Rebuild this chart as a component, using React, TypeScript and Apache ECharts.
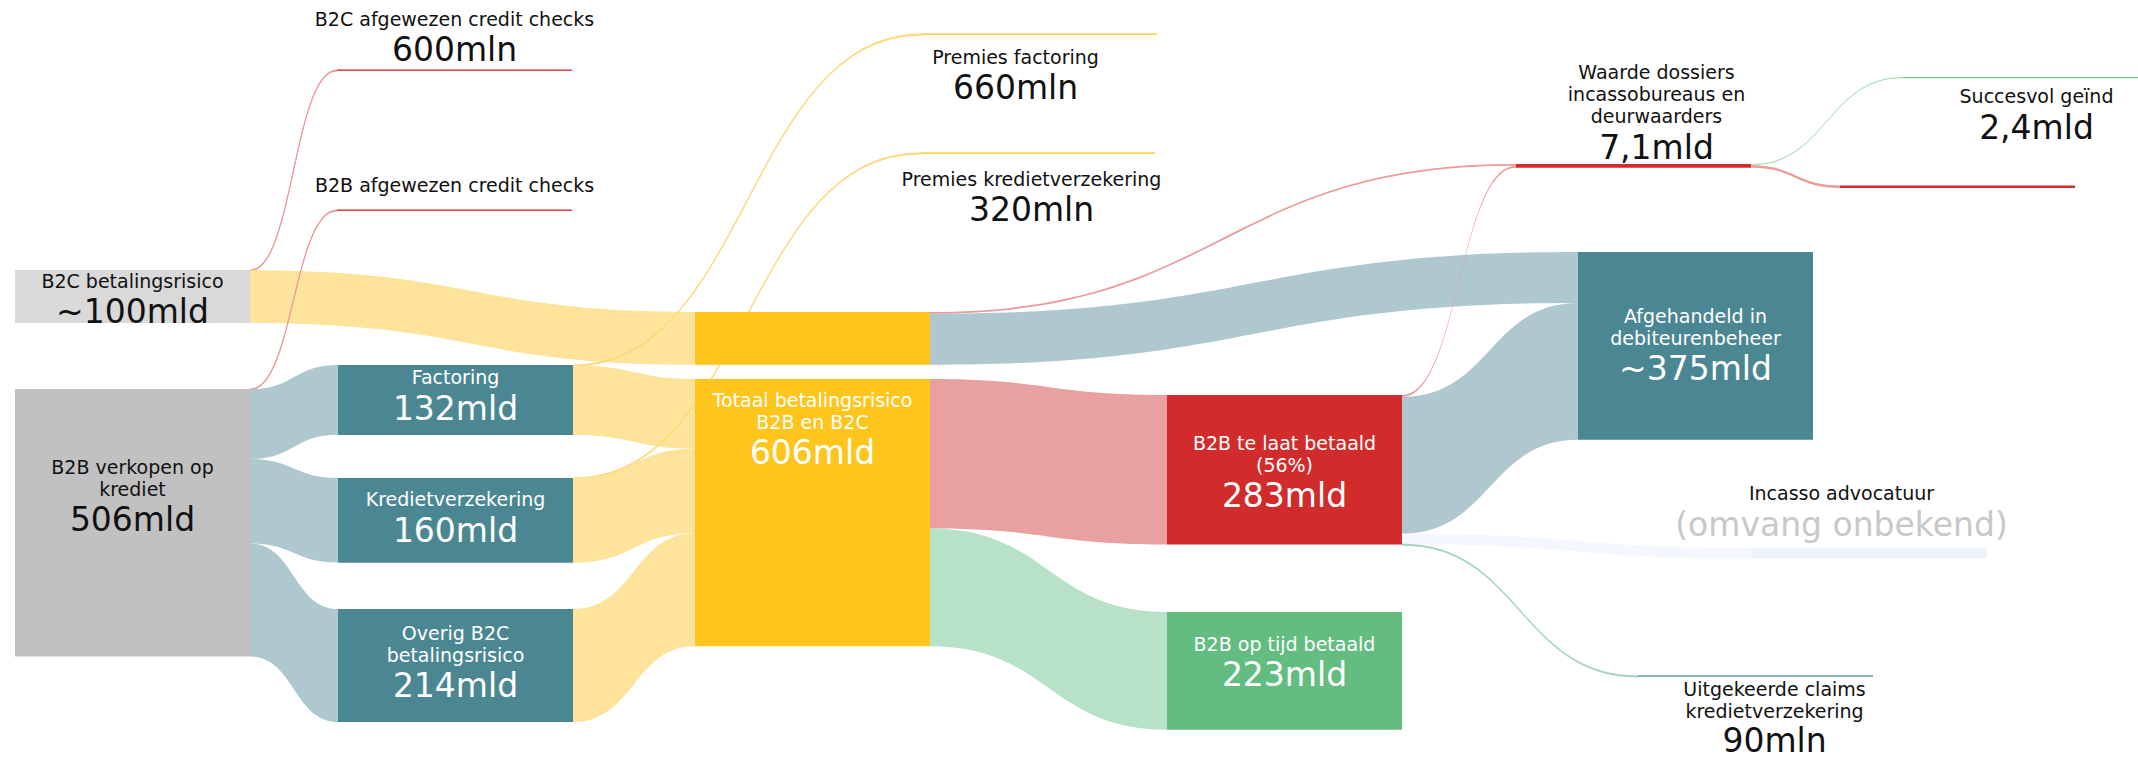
import React, { useEffect, useRef } from 'react';
import * as echarts from 'echarts';

// ---------- data ----------
const nodeNames = [
  'B2C betalingsrisico',
  'B2B verkopen op krediet',
  'B2C afgewezen credit checks',
  'B2B afgewezen credit checks',
  'Factoring',
  'Kredietverzekering',
  'Overig B2C betalingsrisico',
  'Premies factoring',
  'Premies kredietverzekering',
  'B2C deel',
  'Totaal betalingsrisico B2B en B2C',
  'Waarde dossiers incassobureaus en deurwaarders',
  'B2B te laat betaald',
  'B2B op tijd betaald',
  'Succesvol geïnd',
  'Niet geïnd',
  'Afgehandeld in debiteurenbeheer',
  'Incasso advocatuur',
  'Uitgekeerde claims kredietverzekering',
];
const nodeDepths = [0, 0, 1, 1, 1, 1, 1, 2, 2, 2, 2, 3, 3, 3, 4, 4, 4, 4, 4];
const nodeCaptions = [
  'B2C betalingsrisico',
  'B2B verkopen op\nkrediet',
  'B2C afgewezen credit checks',
  'B2B afgewezen credit checks',
  'Factoring',
  'Kredietverzekering',
  'Overig B2C\nbetalingsrisico',
  'Premies factoring',
  'Premies kredietverzekering',
  '',
  'Totaal betalingsrisico\nB2B en B2C',
  'Waarde dossiers\nincassobureaus en\ndeurwaarders',
  'B2B te laat betaald\n(56%)',
  'B2B op tijd betaald',
  'Succesvol geïnd',
  '',
  'Afgehandeld in\ndebiteurenbeheer',
  'Incasso advocatuur',
  'Uitgekeerde claims\nkredietverzekering',
];
const nodeAmounts = [
  '~100mld', '506mld', '600mln', '', '132mld', '160mld', '214mld',
  '660mln', '320mln', '', '606mld', '7,1mld', '283mld', '223mld',
  '2,4mld', '', '~375mld', '(omvang onbekend)', '90mln',
];

// flows (mld)
const flowSource = [0, 0, 1, 1, 1, 1, 4, 4, 5, 5, 6, 9, 9, 10, 10, 12, 12, 12, 12, 11, 11];
const flowTarget = [2, 9, 3, 4, 5, 6, 7, 10, 8, 10, 10, 11, 16, 12, 13, 11, 16, 17, 18, 14, 15];
const flowValue = [0.6, 100, 0.6, 132, 160, 214, 0.66, 132, 0.32, 160, 214, 3.5, 96.5, 283, 223, 3.6, 259, 20, 0.09, 2.4, 4.7];

// ---------- layout & style ----------
const W = 2138;
const H = 761;
const KY = 0.528; // px per mld
const FONT = 'DejaVu Sans';

const nodeX = [15, 15, 337, 337, 338, 338, 338, 922, 920, 695, 695, 1516, 1167, 1167, 1903, 1840, 1578, 1752, 1638];
const nodeY = [270, 389, 70, 210, 365, 478, 609, 34, 153, 312, 379, 164, 395, 612, 77, 185.5, 252, 548, 676];

const nodeColors = [
  '#d9d9d9', '#c1c1c1', '#d42a2a', '#d42a2a', '#4b8793', '#4b8793', '#4b8793',
  '#fec51c', '#fec51c', '#fec51c', '#fec51c', '#d42a2a', '#d12b2b', '#63bd80',
  '#6cc48a', '#d42a2a', '#4b8793', '#edf2fb', '#4b8793',
];
const BLACK = '#111111';
const WHITE = '#ffffff';
// [position, distance, offsetX, offsetY, textColor]
const labelSpec: any[] = [
  ['inside', 0, 0, 4, BLACK],
  ['inside', 0, 0, -25, BLACK],
  ['top', 0, 0, 0, BLACK],
  ['top', 14, 0, 0, BLACK],
  ['inside', 0, 0, -3, WHITE],
  ['inside', 0, 0, -1, WHITE],
  ['inside', 0, 0, -1.5, WHITE],
  ['bottom', 11, -24, 0, BLACK],
  ['bottom', 14, -6, 0, BLACK],
  null,
  ['inside', 0, 0, -82, WHITE],
  ['top', -3, 23, 0, BLACK],
  ['inside', 0, 0, 4, WHITE],
  ['inside', 0, 0, -7, WHITE],
  ['bottom', 7, 16, 0, BLACK],
  null,
  ['inside', 0, 0, 1, WHITE],
  ['top', 4, -28, 0, BLACK],
  ['bottom', 4, 19, -2, BLACK],
];

const flowColors = [
  '#ec9a9a', '#fee39a', '#ec9a9a', '#afc8cf', '#afc8cf', '#afc8cf',
  '#fed97a', '#fee39a', '#fed97a', '#fee39a', '#fee39a',
  '#ec9a9a', '#afc8cf', '#e9a0a0', '#b8e2c8',
  '#ec9a9a', '#afc8cf', '#f4f7fd', '#a6d3cc',
  '#abdfbb', '#ec9a9a',
];

function buildText(i: number) {
  const parts: string[] = [];
  if (nodeCaptions[i]) {
    nodeCaptions[i].split('\n').forEach((l) => parts.push(`{a|${l}}`));
  }
  if (nodeAmounts[i]) {
    const tag = i === 17 ? 'g' : i === 18 ? 'c' : 'b';
    parts.push(`{${tag}|${nodeAmounts[i]}}`);
  }
  return parts.join('\n');
}

export default function App() {
  const ref = useRef<HTMLDivElement>(null);

  useEffect(() => {
    if (!ref.current) return;
    const chart = echarts.init(ref.current, undefined, { renderer: 'svg' });

    const n = nodeNames.length;
    const inSum = new Array(n).fill(0);
    const outSum = new Array(n).fill(0);
    flowValue.forEach((v, k) => {
      outSum[flowSource[k]] += v;
      inSum[flowTarget[k]] += v;
    });
    const colSum: Record<number, number> = {};
    for (let i = 0; i < n; i++) {
      const v = Math.max(inSum[i], outSum[i]);
      colSum[nodeDepths[i]] = (colSum[nodeDepths[i]] || 0) + v;
    }
    const maxSum = Math.max(...Object.values(colSum));
    const layoutH = KY * maxSum;

    const nodes = nodeNames.map((name, i) => {
      const spec = labelSpec[i];
      const color = nodeColors[i];
      const thin = Math.max(inSum[i], outSum[i]) < 1;
      const item: any = {
        name,
        depth: nodeDepths[i],
        localX: nodeX[i] / W,
        localY: nodeY[i] / layoutH,
        itemStyle: {
          color,
          borderColor: color,
          borderWidth: thin ? 0.8 : 0,
          opacity: 1,
        },
      };
      if (spec) {
        const tc = spec[4];
        item.label = {
          show: true,
          position: spec[0],
          distance: spec[1],
          offset: [spec[2], spec[3]],
          color: tc,
          align: 'center',
          textBorderWidth: 0,
          formatter: buildText(i),
          rich: {
            a: { fontFamily: FONT, fontSize: 19, lineHeight: 22, color: tc, align: 'center' },
            b: { fontFamily: FONT, fontSize: 33, lineHeight: 40, color: tc, align: 'center' },
            c: { fontFamily: FONT, fontSize: 33, lineHeight: 36, color: tc, align: 'center' },
            g: { fontFamily: FONT, fontSize: 33, lineHeight: 40, color: '#c8c8c8', align: 'center' },
          },
        };
      } else {
        item.label = { show: false };
      }
      return item;
    });

    const links = flowValue.map((v, k) => ({
      source: nodeNames[flowSource[k]],
      target: nodeNames[flowTarget[k]],
      value: v,
      lineStyle: {
        color: flowColors[k],
        opacity: 1,
        borderColor: flowColors[k],
        borderWidth: v < 1 ? 1 : 0,
      },
    }));

    chart.setOption({
      animation: false,
      backgroundColor: '#ffffff',
      series: [
        {
          type: 'sankey',
          left: 0,
          top: 0,
          width: W,
          height: layoutH,
          nodeWidth: 235,
          nodeGap: 0,
          nodeAlign: 'left',
          layoutIterations: 0,
          draggable: false,
          emphasis: { disabled: true },
          label: { fontFamily: FONT },
          lineStyle: { curveness: 0.5, opacity: 1 },
          data: nodes,
          links,
        },
      ],
    });

    return () => chart.dispose();
  }, []);

  return (
    <div
      ref={ref}
      style={{ position: 'fixed', left: 0, top: 0, width: W, height: H, background: '#fff' }}
    />
  );
}
